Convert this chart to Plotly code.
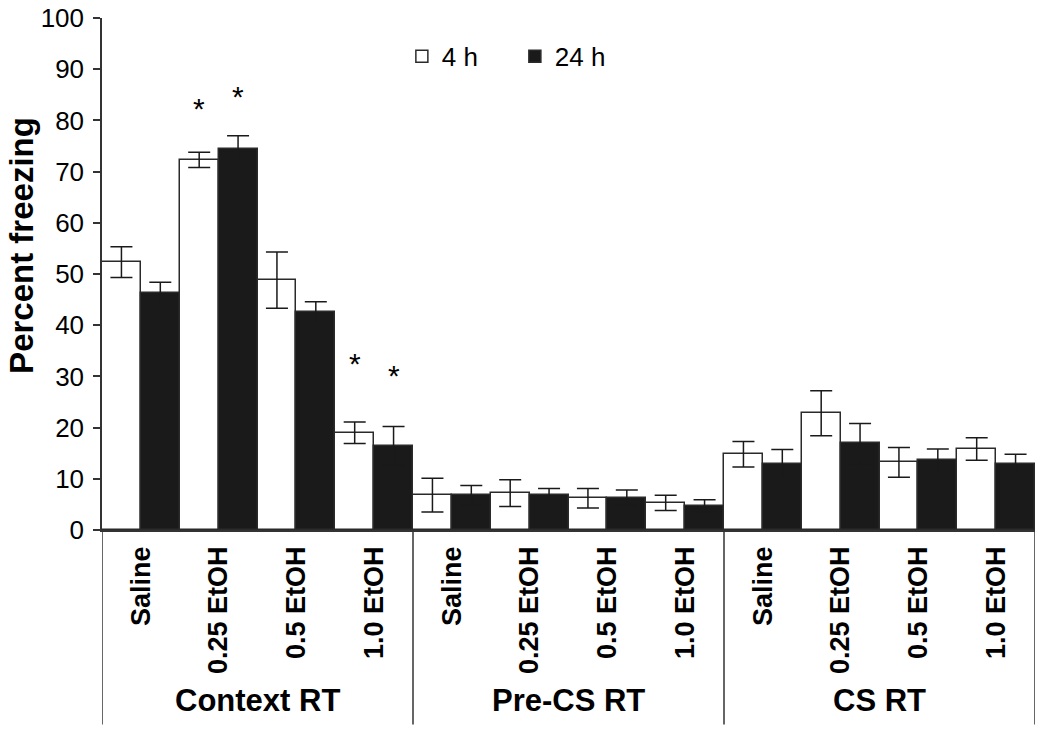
import plotly.graph_objects as go

conditions = ["Saline", "0.25 EtOH", "0.5 EtOH", "1.0 EtOH"] * 3
groups = ["Context RT", "Pre-CS RT", "CS RT"]
h4 = [52.3, 72.3, 48.8, 19.0, 6.8, 7.2, 6.2, 5.3, 14.8, 22.8, 13.2, 15.8]
h4_err = [3.0, 1.5, 5.5, 2.1, 3.3, 2.6, 1.9, 1.5, 2.5, 4.4, 2.9, 2.2]
h24 = [46.3, 74.5, 42.5, 16.4, 6.8, 6.9, 6.3, 4.7, 12.9, 16.9, 13.6, 12.9]
h24_err = [2.1, 2.5, 2.1, 3.8, 1.9, 1.2, 1.5, 1.2, 2.8, 3.9, 2.2, 1.9]
star_x = [0.75, 1.25, 2.75, 3.25]
star_y = [82.4, 84.6, 32.6, 30.2]

xs = list(range(len(conditions)))
font = "Liberation Sans, Arial, sans-serif"

fig = go.Figure()
fig.add_trace(go.Bar(
    x=xs, y=h4, name="4 h",
    marker=dict(color="white", line=dict(color="#2a2a2a", width=1.5)),
    error_y=dict(type="data", array=h4_err, color="#1a1a1a", thickness=1.5, width=11),
))
fig.add_trace(go.Bar(
    x=xs, y=h24, name="24 h",
    marker=dict(color="#1a1a1a", line=dict(color="#2a2a2a", width=1.5)),
    error_y=dict(type="data", array=h24_err, color="#1a1a1a", thickness=1.5, width=11),
))

for sx, sy in zip(star_x, star_y):
    fig.add_annotation(x=sx, y=sy, text="*", showarrow=False,
                       font=dict(size=30, color="black", family=font), xref="x", yref="y")

# group separators and labels
for i, g in enumerate(groups):
    fig.add_annotation(x=i * 4 + 1.5, y=-0.333, xref="x", yref="paper", text="<b>%s</b>" % g,
                       showarrow=False, font=dict(size=31, color="black", family=font), yanchor="middle")
for k in range(4):
    fig.add_shape(type="line", x0=k * 4 - 0.5, x1=k * 4 - 0.5, y0=0, y1=-0.38,
                  xref="x", yref="paper", line=dict(color="#333", width=1.5))

# y-axis title (placed slightly above centre as in the original)
fig.add_annotation(x=-0.0857, y=0.555, xref="paper", yref="paper", text="<b>Percent freezing</b>",
                   textangle=-90, showarrow=False, xanchor="center", yanchor="middle",
                   font=dict(size=33, color="black", family=font))

fig.update_layout(
    width=1050, height=739,
    margin=dict(l=102, r=15, t=18, b=209),
    plot_bgcolor="white", paper_bgcolor="white",
    barmode="group", bargap=0, bargroupgap=0,
    font=dict(family=font, color="black"),
    showlegend=True,
    legend=dict(orientation="h", x=0.3214, y=0.925, xanchor="left", yanchor="middle",
                font=dict(size=26), itemwidth=30, entrywidth=68, entrywidthmode="pixels",
                bgcolor="rgba(0,0,0,0)"),
    xaxis=dict(range=[-0.5, 11.5], tickmode="array", tickvals=xs,
               ticktext=["<b>%s</b>" % c for c in conditions], tickangle=-90,
               tickfont=dict(size=27), showline=True, linecolor="#333", linewidth=1.5,
               ticks="outside", ticklen=4, tickcolor="rgba(0,0,0,0)",
               showgrid=False, zeroline=False, automargin=False),
    yaxis=dict(range=[0, 100], dtick=10, ticks="outside", ticklen=7, tickwidth=1.5,
               tickcolor="#333", showline=True, linecolor="#333", linewidth=1.5,
               tickfont=dict(size=26), showgrid=False, zeroline=False, automargin=False,
               ticklabeloverflow="allow", ticklabelstandoff=4),
)

fig.write_html("out.html", config={"displayModeBar": False},
               post_script="document.body.style.margin='0';")
